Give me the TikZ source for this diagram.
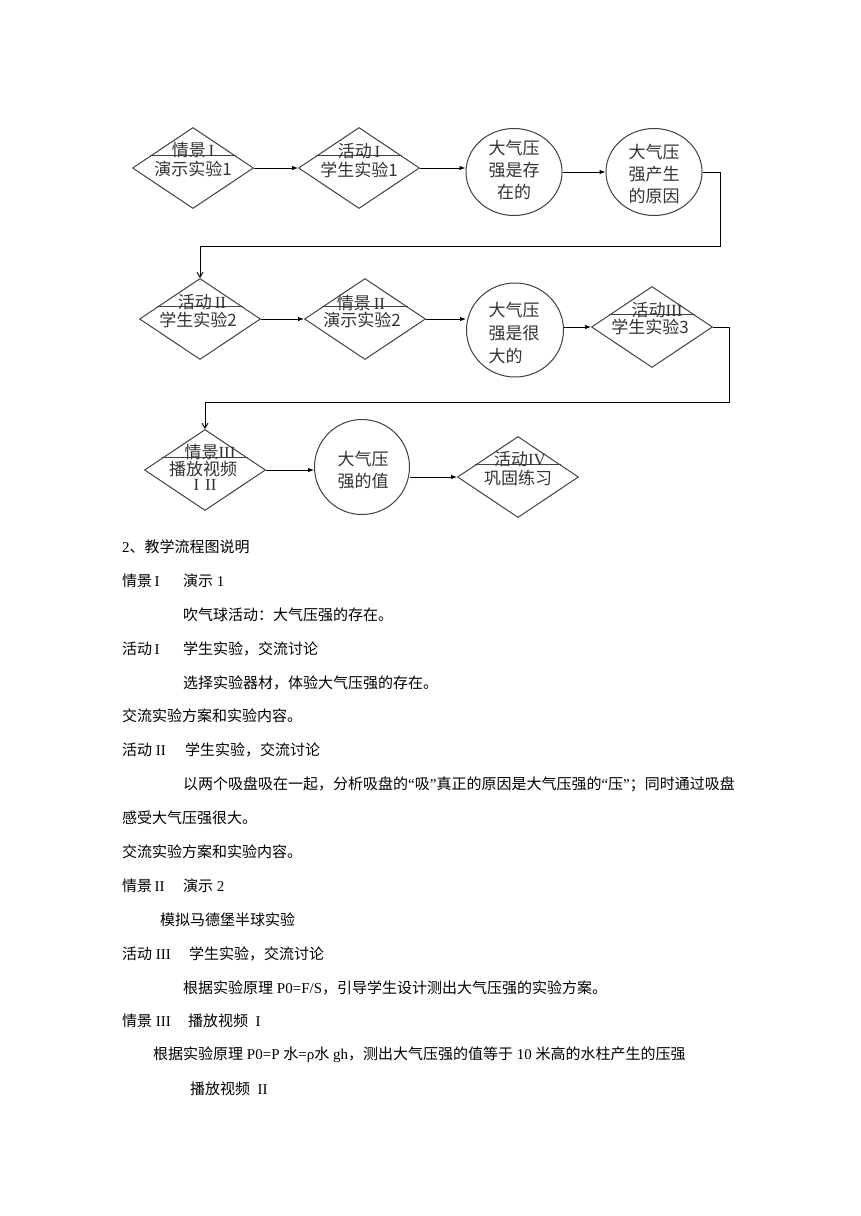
\documentclass[tikz,border=0pt]{standalone}
\usepackage{fontspec}
\setmainfont{Liberation Serif}
\newfontfamily\cjk{Noto Sans CJK SC}
\usetikzlibrary{shapes.geometric,arrows.meta,calc}
\definecolor{shapecol}{HTML}{404040}
\definecolor{txtcol}{HTML}{333333}
\newcommand\latn[1]{{\rmfamily #1}}
\begin{document}
\begin{tikzpicture}[x=1pt,y=-1pt,
  dia/.style={diamond,draw=shapecol,line width=1pt,minimum width=121pt,minimum height=81pt,inner sep=0pt},
  circ/.style={ellipse,draw=shapecol,line width=1pt,inner sep=0pt},
  dtxt/.style={font=\cjk\fontsize{17}{22}\selectfont,text=txtcol,inner sep=0pt,align=center},
  body/.style={font=\cjk\fontsize{15}{18}\selectfont,anchor=west,inner sep=0pt},
  conn/.style={draw=black,line width=0.9pt,-{Latex[length=6pt,width=4.5pt]}},
  connv/.style={draw=black,line width=0.9pt,-{Straight Barb[length=5pt,width=6pt]}},
  divline/.style={draw=shapecol,line width=1pt}]
\useasboundingbox[fill=white] (0,0) rectangle (860,1216);

% ---- row 1
\node[dia] (d1) at (193,168) {};
\node[dia] (d2) at (359,168) {};
\node[circ,minimum width=96pt,minimum height=87pt] (c1) at (514,172) {};
\node[circ,minimum width=96pt,minimum height=87pt] (c2) at (654,172) {};
% ---- row 2
\node[dia] (d3) at (200,319) {};
\node[dia] (d4) at (365,319) {};
\node[circ,minimum width=97pt,minimum height=94pt] (c3) at (515,330) {};
\node[dia] (d5) at (652,327) {};
% ---- row 3
\node[dia] (d6) at (205,470) {};
\node[circ,minimum width=95pt,minimum height=95pt] (c4) at (362,467) {};
\node[dia] (d7) at (518,477) {};

% divider lines in diamonds
\foreach \d in {d1,d2,d3,d4,d5,d6,d7}
  \draw[divline] ($(\d.west)!0.3!(\d.north)$) -- ($(\d.east)!0.3!(\d.north)$);

% diamond texts
\node[dtxt] (d1a) at ($(d1)+(0,-18)$) {情景\latn{\,I}};
\node[dtxt] (d1b) at ($(d1)+(0,1)$) {演示实验1};
\node[dtxt] (d2a) at ($(d2)+(0,-17)$) {活动\latn{\,I}};
\node[dtxt] (d2b) at ($(d2)+(0,2)$) {学生实验1};
\node[dtxt] (d3a) at ($(d3)+(2,-17)$) {活动\latn{\,II}};
\node[dtxt] (d3b) at ($(d3)+(-2,1)$) {学生实验2};
\node[dtxt] (d4a) at ($(d4)+(-4,-16)$) {情景\latn{\,II}};
\node[dtxt] (d4b) at ($(d4)+(-3,1)$) {演示实验2};
\node[dtxt] (d5a) at ($(d5)+(5,-17)$) {活动\latn{III}};
\node[dtxt] (d5b) at ($(d5)+(-2,0)$) {学生实验3};
\node[dtxt] (d6a) at ($(d6)+(5,-18)$) {情景\latn{III}};
\node[dtxt] (d6b) at ($(d6)+(-2,-1)$) {播放视频};
\node[dtxt] (d6c) at ($(d6)+(0,15)$) {\latn{I\hspace{6pt}II}};
\node[dtxt] (d7a) at ($(d7)+(2,-18)$) {活动\latn{IV}};
\node[dtxt] (d7b) at ($(d7)+(0,1)$) {巩固练习};

% circle texts
\node[dtxt] (t1) at (514,170) {大气压\\强是存\\在的};
\node[dtxt] (t2) at (654,174) {大气压\\强产生\\的原因};
\node[dtxt,align=left,font=\cjk\fontsize{17}{23}\selectfont] (t3) at (514,333) {大气压\\强是很\\大的};
\node[dtxt] (t4) at (363,470) {大气压\\强的值};

% connectors
\draw[conn] (d1.east) -- (d2.west);
\draw[conn] (d2.east) -- (d2.east -| c1.west);
\draw[conn] (c1.east) -- (c2.west);
\coordinate (k1) at (720,246);
\draw[connv] (c2.east) -| (k1) -| (d3.north);
\draw[conn] (d3.east) -- (d4.west);
\draw[conn] (d4.east) -- (d4.east -| c3.west);
\draw[conn] (c3.east |- d5.west) -- (d5.west);
\coordinate (k2) at (729,402);
\draw[connv] (d5.east) -| (k2) -| (d6.north);
\draw[conn] (d6.east) -- (d6.east -| c4.west);
\draw[conn] (c4.east |- d7.west) -- (d7.west);

% body text
\node[body] (b0) at (122,547) {\latn{2}、教学流程图说明};
\node[body] (b1a) at (122,581) {情景\latn{\,I}};
\node[body] (b1b) at (183,581) {演示\latn{\ 1}};
\node[body] (b2) at (183,615) {吹气球活动：大气压强的存在。};
\node[body] (b3a) at (122,649) {活动\latn{\,I}};
\node[body] (b3b) at (183,649) {学生实验，交流讨论};
\node[body] (b4) at (183,683) {选择实验器材，体验大气压强的存在。};
\node[body] (b5) at (122,716) {交流实验方案和实验内容。};
\node[body] (b6a) at (122,750) {活动\latn{\ II}};
\node[body] (b6b) at (185,750) {学生实验，交流讨论};
\node[body] (b7) at (183,784) {以两个吸盘吸在一起，分析吸盘的\latn{“}吸\latn{”}真正的原因是大气压强的\latn{“}压\latn{”}；同时通过吸盘};
\node[body] (b8) at (122,818) {感受大气压强很大。};
\node[body] (b9) at (122,852) {交流实验方案和实验内容。};
\node[body] (b10a) at (122,886) {情景\latn{\,II}};
\node[body] (b10b) at (183,886) {演示\latn{\ 2}};
\node[body] (b11) at (160,920) {模拟马德堡半球实验};
\node[body] (b12a) at (122,954) {活动\latn{\ III}};
\node[body] (b12b) at (189,954) {学生实验，交流讨论};
\node[body] (b13) at (183,988) {根据实验原理\latn{\ P0=F/S}，引导学生设计测出大气压强的实验方案。};
\node[body] (b14a) at (122,1021) {情景\latn{\ III}};
\node[body] (b14b) at (188,1021) {播放视频\latn{\ \ I}};
\node[body] (b15) at (153,1055) {根据实验原理\latn{\ P0=P\ }水\latn{=ρ}水\latn{\ gh}，测出大气压强的值等于\latn{\ 10\ }米高的水柱产生的压强};
\node[body] (b16) at (190,1089) {播放视频\latn{\ \ II}};
\end{tikzpicture}
\end{document}
